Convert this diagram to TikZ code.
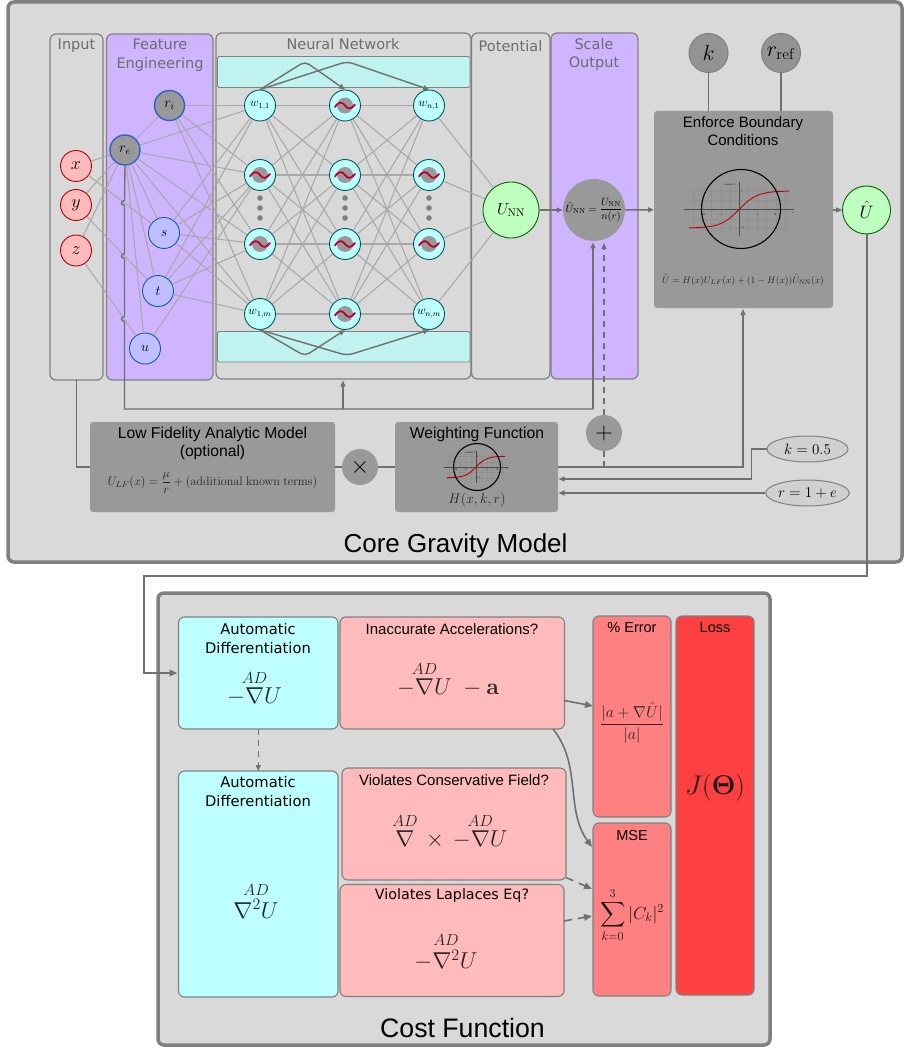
\documentclass[tikz,border=0pt]{standalone}
\usepackage{fix-cm}
\usepackage{amsmath,amssymb}
\usepackage[no-math]{fontspec}
\setmainfont{Liberation Sans}
\newfontfamily\lucida{DejaVu Sans}
\usetikzlibrary{arrows.meta,shapes.geometric}
\definecolor{bgc}{HTML}{D9D9D9}
\definecolor{edgegray}{HTML}{808080}
\definecolor{purp}{HTML}{CFB5FF}
\definecolor{cyanbar}{HTML}{C0F2F0}
\definecolor{cyanb}{HTML}{BDFFFF}
\definecolor{redb}{HTML}{FFBBBB}
\definecolor{redm}{HTML}{FF8080}
\definecolor{redd}{HTML}{FF4040}
\definecolor{gbox}{HTML}{999999}
\definecolor{conn}{HTML}{A8A8A8}
\definecolor{arr}{HTML}{707070}
\definecolor{ttlc}{HTML}{6C6C6C}
\definecolor{wavec}{HTML}{C00030}
\definecolor{featb}{HTML}{125E90}
\definecolor{featr}{HTML}{2F62C0}
\definecolor{grnf}{HTML}{BFFFBF}
\newcommand{\fs}[1]{\fontsize{#1}{#1}\selectfont}
\newcommand{\adn}{\overset{\makebox[0pt]{$\scriptstyle AD$}}{\nabla}}
\newcommand{\adnb}{\overset{\makebox[0pt]{$\scriptstyle AD$}}{\nabla^2}}
\newcommand{\adnc}{\overset{\makebox[0pt]{\hspace{18pt}$\scriptstyle AD$}}{\nabla^2}}
\newcommand{\boxnode}[6]{%
  \pgfmathsetmacro\bw{#4-#2}\pgfmathsetmacro\bh{#5-#3}%
  \pgfmathsetmacro\bx{(#2+#4)/2}\pgfmathsetmacro\by{(#3+#5)/2}%
  \node[#6,minimum width=\bw pt,minimum height=\bh pt,inner sep=0pt,outer sep=0pt] (#1) at (\bx,\by) {};}
\newcommand{\wavepic}[2]{%
  \fill[gbox] (#1,#2) circle[radius=8];
  \begin{scope}[shift={(#1,#2)}]
  \draw[wavec,line width=1.8pt,line cap=round] (-10,1.5) .. controls (-6,-5) and (-2,-3) .. (0,0) .. controls (3,4) and (6,4) .. (10,-1);
  \end{scope}}
\newcommand{\miniplot}[3]{%
  \begin{scope}[shift={(#1,#2)},scale=#3]
  \foreach \gx in {-45.75,-36.6,-27.45,-18.3,-9.15,0,9.15,18.3,27.45,36.6,45.75}{\draw[black!50,line width=0.15pt,opacity=.3] (\gx,-22) -- (\gx,24);}
  \foreach \gy in {-18.5,-9.25,9.25,18.5}{\draw[black!50,line width=0.15pt,opacity=.3] (-50,\gy) -- (50,\gy);}
  \draw[line width=0.45pt,black!70] (-55,0) -- (55,0);
  \draw[line width=0.45pt,black!70] (0,27) -- (0,-27);
  \node[font=\fs{2.7},inner sep=0pt] (t#1) at (-9,-25) {$\tanh(x)$};
  \node[font=\fs{2.7},inner sep=0pt] (a#1) at (-18.5,5) {$-1$};
  \node[font=\fs{2.7},inner sep=0pt] (b#1) at (18.5,5) {$1$};
  \node[font=\fs{2.7},inner sep=0pt] (c#1) at (36.5,5) {$2$};
  \node[font=\fs{2.7},inner sep=0pt] (d#1) at (3,-18.5) {$1$};
  \node[font=\fs{2.7},inner sep=0pt] (e#1) at (3,18.5) {$-1$};
  \node[font=\fs{2.7},inner sep=0pt] (f#1) at (-36.5,5) {$-2$};
  \node[font=\fs{2.7},inner sep=0pt] (g#1) at (54,3) {$x$};
  \draw[red!75!black,line width=0.9pt] plot[domain=-50:50,samples=41,smooth] (\x,{-18.5*tanh(\x/18.3)});
  \end{scope}}
\tikzset{
  x=1pt,y=-1pt,
  outerbox/.style={draw=edgegray,line width=3.5pt,fill=bgc,rounded corners=6pt},
  panel/.style={draw=edgegray,line width=1.2pt,rounded corners=6pt},
  bar/.style={draw=edgegray,line width=0.9pt,fill=cyanbar,rounded corners=1.5pt},
  graybox/.style={fill=gbox,rounded corners=3pt},
  costbox/.style={draw=edgegray,line width=1.1pt,rounded corners=6pt},
  inp/.style={circle,draw=red!70!black,line width=0.9pt,fill=redb,minimum size=31pt,inner sep=0pt,font=\fs{18}},
  feat/.style={circle,draw=featb,line width=0.9pt,fill=blue!25,minimum size=31pt,inner sep=0pt,font=\fs{14}},
  featg/.style={circle,draw=featr,line width=1.4pt,fill=gbox,minimum size=30pt,inner sep=0pt,font=\fs{14.5}},
  hid/.style={circle,draw=teal!70!black,line width=0.9pt,fill=cyanb,minimum size=31pt,inner sep=0pt,font=\fs{12}},
  grn/.style={circle,draw=green!40!black,line width=0.9pt,fill=grnf,inner sep=0pt},
  gcirc/.style={circle,fill=gbox,inner sep=0pt},
  pcirc/.style={circle,fill=edgegray!85!white,draw=edgegray,line width=1pt,minimum size=39pt,inner sep=0pt,font=\fs{22}},
  ell/.style={ellipse,draw=edgegray,line width=1pt,fill=bgc!90!gray,minimum width=81pt,minimum height=26pt,inner sep=0pt,font=\fs{15}},
  ttl/.style={text=ttlc,align=center,inner sep=0pt,font=\lucida\fs{14.5}},
  blk/.style={text=black,align=center,inner sep=0pt,font=\fs{15.7}},
  luc/.style={text=black,align=center,inner sep=0pt,font=\lucida\fs{14.7}},
  conne/.style={draw=conn,line width=1.05pt},
  wire/.style={draw=arr,line width=1.4pt},
  arw/.style={draw=arr,line width=1.4pt,-{Triangle[length=6pt,width=5pt]}},
  arwl/.style={draw=arr,line width=1.6pt,-{Triangle[length=8pt,width=6.5pt]}},
  arwd/.style={arw,dash pattern=on 6pt off 5pt},
  arwe/.style={arwl,dash pattern=on 8pt off 6pt},
  mth/.style={inner sep=0pt,font=\fs{23},text=black!85},
}
\begin{document}
\begin{tikzpicture}
\useasboundingbox (0,0) rectangle (903,1048);
\boxnode{core}{8}{2}{902}{562}{outerbox}
\boxnode{cost}{158}{593}{770}{1045}{outerbox}
% panels
\boxnode{input}{50}{34}{103}{380}{panel}
\boxnode{featpanel}{106.5}{34}{213}{380}{panel,fill=purp}
\boxnode{nn}{216}{33}{471}{379}{panel}
\boxnode{pot}{471.5}{33}{550}{379}{panel}
\boxnode{scale}{551}{33}{638}{379}{panel,fill=purp}
\boxnode{bartop}{217.5}{56.5}{470}{87.5}{bar}
\boxnode{barbot}{217.5}{331.5}{470}{362}{bar}
\node[ttl] (tinput) at (76.5,46) {Input};
\node[ttl] (tfeat) at (160,55) {Feature\\[4pt]Engineering};
\node[ttl] (tnn) at (343,44) {Neural Network};
\node[ttl] (tpot) at (510.5,46) {Potential};
\node[ttl] (tscale) at (594,54.5) {Scale\\[4pt]Output};
% input and feature nodes
\node[inp] (x) at (76,166) {$x$};
\node[inp] (y) at (76,205) {$y$};
\node[inp] (z) at (76,250.5) {$z$};
\node[featg] (ri) at (169.5,105.5) {$r_i$};
\node[featg] (re) at (125,150) {$r_e$};
\node[feat] (s) at (164,233) {$s$};
\node[feat] (t) at (158,291) {$t$};
\node[feat] (u) at (145,348.5) {$u$};
% hidden nodes
\foreach \n/\x/\y/\l in {
 h11/260/105.5/{$w_{1,1}$},h12/260/175/{},h13/260/244/{},h14/260/314/{$w_{1,m}$},
 h21/345/105.5/{},h22/345/175/{},h23/345/244/{},h24/345/314/{},
 h31/429/105.5/{$w_{n,1}$},h32/429/175/{},h33/429/244/{},h34/429/314/{$w_{n,m}$}}
  {\node[hid] (\n) at (\x,\y) {\l};}
% connector lines
\foreach \a/\b in {x/re,y/re,z/re,x/s,y/t,z/u,re/ri,re/s,re/t,re/u,
  re/h11,re/h12,re/h13,re/h14,ri/h11,ri/h12,ri/h13,ri/h14,
  s/h11,s/h12,s/h13,s/h14,t/h11,t/h12,t/h13,t/h14,u/h12}
  {\draw[conne] (\a) -- (\b);}
\foreach \i in {1,2,3,4}{\foreach \j in {1,2,3,4}{
  \draw[conne] (h1\i) -- (h2\j);
  \draw[conne] (h2\i) -- (h3\j);}}
\foreach \n/\x/\y in {h12/260/175,h13/260/244,h21/345/105.5,h22/345/175,h23/345/244,h24/345/314,h32/429/175,h33/429/244}
  {\wavepic{\x}{\y}}
\foreach \x in {260,345,429}{\foreach \y in {198,208,218}{\fill[edgegray] (\x,\y) circle[radius=2.8];}}
% network skip arrows
\draw[arw,rounded corners=5pt] (h11.north) -- (305,61.5) -- (h21.north);
\draw[arw,rounded corners=6pt] (h11.north) -- (347,61.5) -- (h31.north);
\draw[arw,rounded corners=5pt] (h14.south) -- (305,356) -- (h24.south);
\draw[arw,rounded corners=6pt] (h14.south) -- (347,355.5) -- (h34.south);
% potential, scale
\node[grn,minimum size=56pt,font=\fs{16}] (unn) at (511,210) {$U_{\mathrm{NN}}$};
\node[gcirc,minimum size=62pt,font=\fs{10.5}] (sc) at (594,210) {$\hat U_{\mathrm{NN}}=\dfrac{U_{\mathrm{NN}}}{n(r)}$};
\foreach \a in {h31,h32,h33,h34}{\draw[conne] (\a) -- (unn);}
\draw[arw] (unn) -- (sc);
% boundary
\boxnode{bc}{654}{111}{833}{308}{graybox}
\node[blk,font=\fs{15}] (tbc) at (743,131) {Enforce Boundary\\[3pt]Conditions};
\miniplot{739}{209.5}{1}
\node[circle,draw=black,line width=1.1pt,minimum size=79pt,inner sep=0pt] (bccirc) at (741,209) {};
\node[inner sep=0pt,font=\fs{9.3},text=black!85] (bceq) at (743,280) {$\hat U=H(x)U_{LF}(x)+(1-H(x))\hat U_{\mathrm{NN}}(x)$};
\draw[arw] (sc) -- (bc);
\node[pcirc] (k) at (708.5,53) {$k$};
\node[pcirc] (rref) at (781,53) {$r_{\mathrm{ref}}$};
\draw[wire] (k) -- (k |- bc.north);
\draw[wire] (rref) -- (rref |- bc.north);
\node[grn,minimum size=48pt,font=\fs{18}] (uh) at (866.5,210) {$\hat U$};
\draw[arw] (bc.east |- uh) -- (uh);
% lower row
\boxnode{lf}{90}{422}{335}{512}{graybox}
\node[blk] (tlf) at (212.5,443.5) {Low Fidelity Analytic Model\\[3pt](optional)};
\node[inner sep=0pt,font=\fs{12.2},text=black!85] (lfeq) at (212.5,483) {$U_{LF}(x)=\dfrac{\mu}{r}+(\mathrm{additional\ known\ terms})$};
\boxnode{wf}{395}{422}{558}{512}{graybox}
\node[blk] (twf) at (477,434) {Weighting Function};
\miniplot{476}{467}{0.58}
\node[circle,draw=black,line width=1.1pt,minimum size=47pt,inner sep=0pt] (wfcirc) at (477,467) {};
\node[inner sep=0pt,font=\fs{14},text=black!85] (wfeq) at (477,500) {$H(x,k,r)$};
\node[gcirc,minimum size=36pt,font=\fs{24}] (times) at (360,467) {$\times$};
\node[gcirc,minimum size=36pt,font=\fs{24}] (plus) at (604,433) {$+$};
\node[ell] (k5) at (807.5,449) {$k=0.5$};
\node[ell] (r1) at (807.5,493) {$r=1+e$};
% wiring
\draw[wire] (input.south) |- (lf.west);
\draw[wire] (lf) -- (times);
\draw[wire] (times) -- (wf);
\draw[arw] (wf.east) -| (743,309);
\draw[wire,dash pattern=on 6pt off 4pt] (plus.south) -- (plus.south |- wf.east);
\draw[arwd] (plus.north) -- (604,243);
\draw[arw] (k5.west) -- ++(-15,0) |- (558.5,479);
\draw[arw] (r1.west) -- (558.5,493);
\draw[wire] (re.south) -- (124.5,200.5) .. controls (120.5,201) and (120.5,205) .. (124.5,205.5) -- (124.5,253.5) .. controls (120.5,254) and (120.5,258) .. (124.5,258.5) -- (124.5,316.5) .. controls (120.5,317) and (120.5,321) .. (124.5,321.5) -- (124.5,409) -- (593,409);
\draw[arw] (593,409) -- (593,242.5);
\draw[arw] (343,409) -- (343,380.5);
\draw[arwl,line width=2pt] (uh.south) -- (866.5,575.5) -- (144,575.5) -- (144,673) -- (177.5,673);
% cost boxes
\boxnode{ad1}{178.5}{617}{338}{729}{costbox,fill=cyanb}
\boxnode{ina}{340}{617}{564.5}{729}{costbox,fill=redb}
\boxnode{ad2}{178.5}{771}{338}{997}{costbox,fill=cyanb}
\boxnode{con}{342}{768}{566}{880}{costbox,fill=redb}
\boxnode{lap}{340}{884.5}{564}{996.5}{costbox,fill=redb}
\boxnode{perr}{593}{616}{671}{817}{costbox,fill=redm}
\boxnode{mse}{593}{823}{671}{996}{costbox,fill=redm}
\boxnode{loss}{676}{616}{754}{995}{costbox,fill=redd}
\node[luc] (tad1) at (258,638.5) {Automatic\\[4pt]Differentiation};
\node[mth] (mad1) at (254.5,688) {$-\adn U$};
\node[blk,font=\fs{15}] (tina) at (452,629) {Inaccurate Accelerations?};
\node[mth] (mina) at (448,678.5) {$-\adn U\;-\mathbf{a}$};
\node[luc] (tad2) at (258,791.5) {Automatic\\[4pt]Differentiation};
\node[mth] (mad2) at (256,900) {$\adnc U$};
\node[blk,font=\fs{15}] (tcon) at (454,780) {Violates Conservative Field?};
\node[mth] (mcon) at (451.5,831) {$\adn\ \times\,-\adn U$};
\node[luc,font=\lucida\fs{14.3}] (tlap) at (452,896) {Violates Laplaces Eq?};
\node[mth] (mlap) at (446,951) {$-\adnb U$};
\node[blk,font=\fs{14.5}] (tperr) at (632,628) {\% Error};
\node[inner sep=0pt,font=\fs{15.8},text=black!85] (mperr) at (632,723) {$\dfrac{|a+\nabla\hat U|}{|a|}$};
\node[blk,font=\fs{14.5}] (tmse) at (632,835) {MSE};
\node[inner sep=0pt,font=\fs{17.5},text=black!90] (mmse) at (632,915) {$\displaystyle\sum_{k=0}^{3}|C_k|^2$};
\node[blk,font=\fs{14.5}] (tloss) at (715,628) {Loss};
\node[inner sep=0pt,font=\fs{27},text=black!90] (mloss) at (715,788) {$J(\boldsymbol{\Theta})$};
\draw[arwd] (ad1.south) -- (ad2.north);
\draw[arwl] (ina.east |- 0,700.5) -- (perr.west |- 0,706);
\draw[arwl] (553,729) .. controls (582,765) and (565,810) .. (592,847);
\draw[arwe] (566,877.5) -- (592,889);
\draw[arwe] (lap.east |- 0,921) -- (592,916);
% titles
\node[inner sep=0pt,font=\fs{26}] (tcore) at (455.5,546) {Core Gravity Model};
\node[inner sep=0pt,font=\fs{26.7}] (tcost) at (462.5,1028) {Cost Function};
\end{tikzpicture}
\end{document}
